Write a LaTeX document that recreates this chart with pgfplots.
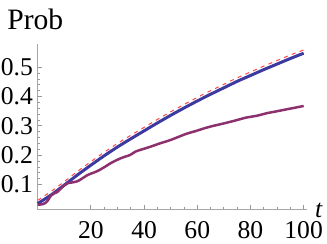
\documentclass[border=0pt]{standalone}
\usepackage{fontspec}
\setmainfont{Liberation Serif}
\usepackage{pgfplots}
\pgfplotsset{compat=1.18}
\definecolor{mblue}{RGB}{60,58,160}
\definecolor{mpurple}{RGB}{140,48,110}
\definecolor{mred}{RGB}{255,70,70}
\newcommand{\bigf}{\rmfamily\fontsize{12.8pt}{14pt}\selectfont}
\newcommand{\titf}{\rmfamily\fontsize{14.8pt}{16pt}\selectfont}
\begin{document}
\begin{tikzpicture}
\begin{axis}[
  scale only axis,
  at={(0pt,0pt)}, anchor=south west,
  width=134.7pt, height=82.85pt,
  xmin=0, xmax=101.3, ymin=0.014, ymax=0.5795,
  axis lines*=left,
  axis line style={draw=black!35, line width=0.6pt},
  tick align=inside,
  major tick length=2.2pt, minor tick length=1.2pt,
  every tick/.style={draw=black!40, line width=0.4pt},
  xtick={20,40,60,80,100}, minor x tick num=3,
  ytick={0.1,0.2,0.3,0.4,0.5}, minor y tick num=4,
  xticklabel={\bigf\pgfmathprintnumber[assume math mode=true]{\tick}},
  yticklabel={\bigf\pgfmathprintnumber[assume math mode=true,fixed,fixed zerofill,precision=1]{\tick}},
  yticklabel style={inner sep=0pt, xshift=-2.2pt},
  xticklabel style={inner sep=0pt, yshift=-5.5pt},
  clip=false,
]
\addplot[mblue, line width=1.5pt, smooth] coordinates {
(0,0.035) (5,0.064) (10,0.098) (15,0.133) (20,0.166) (25,0.198) (30,0.228)
(35,0.256) (40,0.283) (45,0.310) (50,0.336) (55,0.361) (60,0.385) (65,0.408)
(70,0.430) (75,0.452) (80,0.472) (85,0.492) (90,0.511) (95,0.530) (100,0.548)};
\addplot[mpurple, line width=1.25pt, smooth] coordinates {
(0,0.031) (2,0.033) (3.5,0.042) (5,0.062) (6,0.069) (7.5,0.075) (9.3,0.092)
(11.2,0.104) (13,0.107) (14.9,0.111) (16.8,0.121) (18.7,0.132) (20.6,0.139)
(22.5,0.146) (25.4,0.161) (27.3,0.172) (29.2,0.181) (31.1,0.189) (32.9,0.195)
(34.8,0.201) (36.7,0.212) (38.6,0.218) (42.4,0.229) (46.2,0.241) (50,0.252)
(55.6,0.272) (60,0.284) (63.1,0.293) (66,0.300) (70.7,0.310) (75,0.320)
(78.2,0.328) (82.6,0.335) (86,0.343) (90,0.350) (95,0.359) (100,0.368)};
\addplot[mred, line width=0.5pt, dash pattern=on 2pt off 2.2pt, smooth] coordinates {
(0,0.046) (5,0.076) (10,0.110) (15,0.145) (20,0.178) (25,0.210) (30,0.240)
(35,0.268) (40,0.295) (45,0.322) (50,0.348) (55,0.373) (60,0.397) (65,0.420)
(70,0.442) (75,0.464) (80,0.484) (85,0.504) (90,0.523) (95,0.542) (100,0.559)};
\end{axis}
\node[anchor=base west, inner sep=0pt] at (-15.4pt,89.85pt) {\titf Prob};
\node[anchor=base west, inner sep=0pt] at (138.5pt,-4pt) {\bigf\itshape t};
\pgfresetboundingbox
\path (-18.85pt,-17.15pt) rectangle (144.65pt,104.85pt);
\end{tikzpicture}
\end{document}
